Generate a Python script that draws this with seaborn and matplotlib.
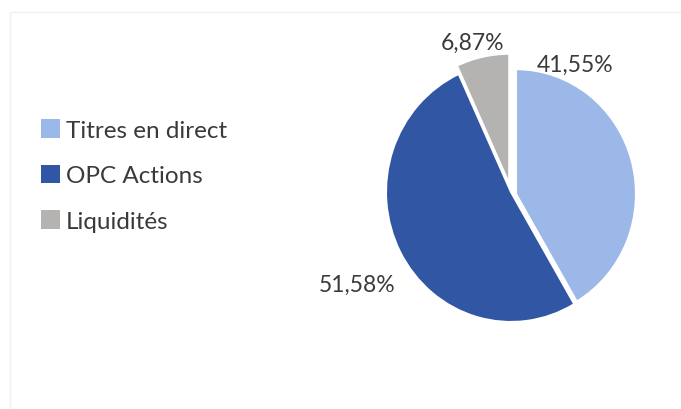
import matplotlib
matplotlib.use("Agg")
import matplotlib.pyplot as plt
from matplotlib.patches import Patch, Rectangle
import seaborn as sns

# Portfolio allocation
categories = ["Titres en direct", "OPC Actions", "Liquidités"]
shares = [41.55, 51.58, 6.87]
value_labels = ["41,55%", "51,58%", "6,87%"]

sns.set_theme(style="white")
plt.rcParams["font.family"] = ["Lato", "DejaVu Sans"]

palette = sns.color_palette(["#9BB8E8", "#3156A3", "#B5B3B1"])
text_color = "#3A3A3A"

fig = plt.figure(figsize=(6.81, 4.10), dpi=100)
fig.patch.set_facecolor("white")

# faint chart-area frame
fig.add_artist(Rectangle((10 / 681, -0.01), 1.0, (410 - 13) / 410 + 0.01,
                         transform=fig.transFigure, fill=False,
                         edgecolor="#F0F0F0", linewidth=1.0))

# pie axes: centre at (511, 193) px, 125 px wide radius, 130 px tall radius
half = 170
ax = fig.add_axes([(511 - half) / 681, (410 - 193 - half) / 410,
                   2 * half / 681, 2 * half / 410])
wedges, _ = ax.pie(
    shares,
    colors=palette,
    startangle=90,
    counterclock=False,
    explode=[0.04, 0.0, 0.065],
    wedgeprops=dict(edgecolor="white", linewidth=1.5),
)
# the detached first slice sits slightly lower and smaller
wedges[0].set_radius(0.96)
wedges[0].set_center((0.04, -0.015))
ax.set_aspect("auto")
ax.set_xlim(-half / 125, half / 125)
ax.set_ylim(-half / 130, half / 130)
ax.axis("off")

# data labels (best-fit placement outside the pie)
label_pos = [(0.51, 0.98), (-1.23, -0.71), (-0.31, 1.15)]
for (lx, ly), lab in zip(label_pos, value_labels):
    ax.text(lx, ly, lab, ha="center", va="center", fontsize=16.5,
            color=text_color, clip_on=False)

handles = [Patch(facecolor=c, edgecolor="none") for c in palette]
leg = fig.legend(handles, categories, loc="upper left",
                 bbox_to_anchor=(41 / 681, 1 - 120 / 410),
                 frameon=False, fontsize=17.5, labelcolor=text_color,
                 handlelength=0.8, handleheight=0.8, handletextpad=0.22,
                 labelspacing=0.98, borderpad=0, borderaxespad=0)

fig.savefig("out.png", dpi=100, facecolor="white")
